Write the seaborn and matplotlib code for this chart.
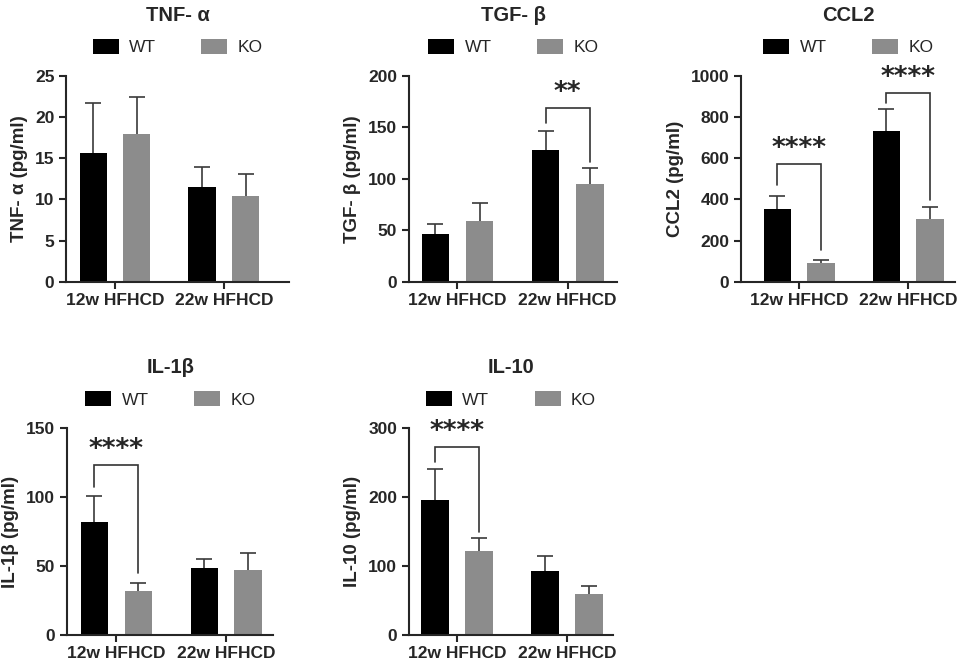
import numpy as np
import pandas as pd
import matplotlib
matplotlib.use("Agg")
import matplotlib.pyplot as plt
import seaborn as sns

groups = ["12w HFHCD", "22w HFHCD"]
genotypes = ["WT", "KO"]

tnf_wt = [15.6, 11.5]
tnf_wt_sem = [6.1, 2.4]
tnf_ko = [17.9, 10.4]
tnf_ko_sem = [4.5, 2.7]

tgf_wt = [47, 128]
tgf_wt_sem = [9, 18.5]
tgf_ko = [59, 95.5]
tgf_ko_sem = [18, 15.5]

ccl2_wt = [354, 730]
ccl2_wt_sem = [65, 108]
ccl2_ko = [90, 304]
ccl2_ko_sem = [17, 58]

il1b_wt = [82, 48.7]
il1b_wt_sem = [18.5, 6.5]
il1b_ko = [31.8, 47.5]
il1b_ko_sem = [6, 12.3]

il10_wt = [196, 93.5]
il10_wt_sem = [44.5, 21.3]
il10_ko = [122, 59.5]
il10_ko_sem = [19, 12]

# (group index, bracket top, WT leg end, KO leg end, label)
tgf_sig = [(1, 168.5, 154, 116, "**")]
ccl2_sig = [(0, 573, 471, 155, "****"), (1, 916, 870, 398, "****")]
il1b_sig = [(0, 123, 107, 45, "****")]
il10_sig = [(0, 272, 251.5, 150, "****")]

sns.set_style("ticks")
plt.rcParams["font.family"] = ["Liberation Sans", "DejaVu Sans"]

palette = {"WT": "#000000", "KO": "#8c8c8c"}

panels = [
    # title, ylabel, wt, wt_sem, ko, ko_sem, yticks, sig, position, xlim
    ("TNF- α", "TNF- α (pg/ml)", tnf_wt, tnf_wt_sem, tnf_ko, tnf_ko_sem,
     [0, 5, 10, 15, 20, 25], [], [0.069, 0.5747, 0.232, 0.311], (-0.45, 1.6)),
    ("TGF- β", "TGF- β (pg/ml)", tgf_wt, tgf_wt_sem, tgf_ko, tgf_ko_sem,
     [0, 50, 100, 150, 200], tgf_sig, [0.426, 0.5747, 0.217, 0.311], (-0.44, 1.45)),
    ("CCL2", "CCL2 (pg/ml)", ccl2_wt, ccl2_wt_sem, ccl2_ko, ccl2_ko_sem,
     [0, 200, 400, 600, 800, 1000], ccl2_sig, [0.772, 0.5747, 0.223, 0.311], (-0.53, 1.43)),
    ("IL-1β", "IL-1β (pg/ml)", il1b_wt, il1b_wt_sem, il1b_ko, il1b_ko_sem,
     [0, 50, 100, 150], il1b_sig, [0.0698, 0.0422, 0.215, 0.312], (-0.45, 1.43)),
    ("IL-10", "IL-10 (pg/ml)", il10_wt, il10_wt_sem, il10_ko, il10_ko_sem,
     [0, 100, 200, 300], il10_sig, [0.426, 0.0422, 0.2125, 0.312], (-0.435, 1.42)),
]

fig = plt.figure(figsize=(9.6, 6.63), dpi=100)

for title, ylabel, wt, wt_sem, ko, ko_sem, yticks, sig, pos, xlim in panels:
    ax = fig.add_axes(pos)
    df = pd.DataFrame({
        "group": groups * 2,
        "genotype": ["WT"] * 2 + ["KO"] * 2,
        "value": list(wt) + list(ko),
    })
    sns.barplot(data=df, x="group", y="value", hue="genotype", order=groups,
                hue_order=genotypes, palette=palette, errorbar=None,
                width=0.8, gap=0.375, saturation=1, linewidth=0, ax=ax)

    sems = {"WT": wt_sem, "KO": ko_sem}
    centers = {}
    for cont, g in zip(ax.containers, genotypes):
        xs = [b.get_x() + b.get_width() / 2 for b in cont]
        hs = [b.get_height() for b in cont]
        centers[g] = xs
        eb = ax.errorbar(xs, hs, yerr=[[0] * len(hs), sems[g]], fmt="none",
                         ecolor="#3a3a3a", elinewidth=1.2, capsize=5.5,
                         capthick=1.2, zorder=1)
        # keep only the upper cap
        eb[1][0].set_visible(False)

    for gi, top, lw, rw, lab in sig:
        x1 = centers["WT"][gi]
        x2 = centers["KO"][gi]
        ax.plot([x1, x1, x2, x2], [lw, top, top, rw], color="#333333", lw=1.2,
                solid_joinstyle="miter")
        ax.annotate(lab, xy=((x1 + x2) / 2, top), xytext=(0, 11),
                    textcoords="offset points", ha="center", va="center",
                    fontsize=19, fontweight="bold", family="DejaVu Sans")

    ax.set_xlim(*xlim)
    ax.set_ylim(0, yticks[-1])
    ax.set_yticks(yticks)
    ax.set_xlabel("")
    ax.set_ylabel(ylabel, fontsize=13.5, fontweight="bold", labelpad=5)
    ax.text(0.5, 1.265, title, transform=ax.transAxes, ha="center",
            va="baseline", fontsize=14.5, fontweight="bold")
    sns.despine(ax=ax)
    for s in ["left", "bottom"]:
        ax.spines[s].set_linewidth(1.5)
    ax.tick_params(axis="both", width=1.5, length=5, labelsize=12.5)
    for lbl in ax.get_xticklabels() + ax.get_yticklabels():
        lbl.set_fontweight("bold")
    ax.tick_params(axis="x", labelsize=12.5, pad=3)

    sns.move_legend(ax, "center", bbox_to_anchor=(0.5, 1.14), ncol=2,
                    frameon=False, title=None, fontsize=12.5, handlelength=1.5,
                    handleheight=1.0, columnspacing=2.6, handletextpad=0.6)

fig.savefig("out.png", dpi=100)
